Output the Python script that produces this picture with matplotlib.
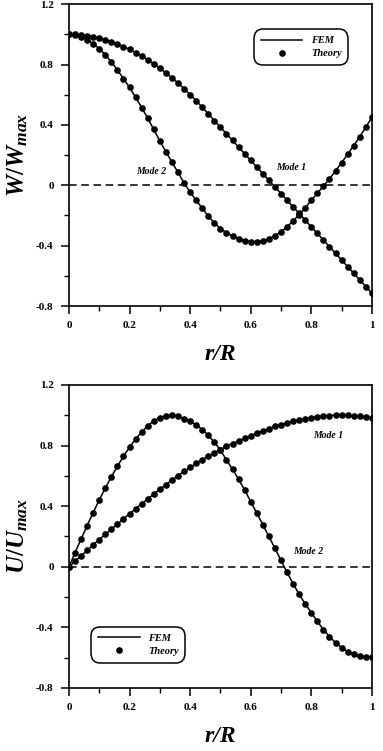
import matplotlib
matplotlib.use('Agg')
import matplotlib.pyplot as plt
import numpy as np

plt.rcParams['font.family'] = ['Liberation Serif', 'DejaVu Serif']
plt.rcParams['font.weight'] = 'bold'
plt.rcParams['mathtext.fontset'] = 'custom'
plt.rcParams['mathtext.it'] = 'Liberation Serif:italic:bold'
plt.rcParams['mathtext.rm'] = 'Liberation Serif:bold'

# r/R positions (0 to 1, step 0.02)
r = np.round(np.arange(0, 51) * 0.02, 2)

# transverse displacement W/Wmax
w_mode1 = [1.000, 0.999, 0.996, 0.991, 0.984, 0.975, 0.964, 0.951, 0.936, 0.919,
           0.900, 0.879, 0.856, 0.831, 0.804, 0.775, 0.745, 0.712, 0.677, 0.640,
           0.601, 0.560, 0.517, 0.473, 0.429, 0.385, 0.341, 0.297, 0.253, 0.209,
           0.165, 0.121, 0.077, 0.033, -0.011, -0.055, -0.099, -0.143, -0.187, -0.231,
           -0.275, -0.319, -0.363, -0.407, -0.451, -0.495, -0.539, -0.583, -0.627, -0.671,
           -0.715]
w_mode2 = [1.000, 0.996, 0.984, 0.965, 0.938, 0.905, 0.864, 0.817, 0.764, 0.706,
           0.648, 0.583, 0.515, 0.444, 0.370, 0.293, 0.222, 0.153, 0.085, 0.015,
           -0.045, -0.100, -0.152, -0.205, -0.250, -0.287, -0.315, -0.337, -0.353, -0.366,
           -0.374, -0.375, -0.368, -0.354, -0.334, -0.308, -0.275, -0.236, -0.195, -0.150,
           -0.099, -0.052, -0.006, 0.042, 0.095, 0.150, 0.205, 0.263, 0.322, 0.385,
           0.450]

# radial displacement U/Umax
u_mode1 = [0.000, 0.036, 0.072, 0.108, 0.144, 0.180, 0.214, 0.248, 0.282, 0.316,
           0.350, 0.383, 0.416, 0.448, 0.480, 0.511, 0.542, 0.572, 0.601, 0.629,
           0.656, 0.682, 0.707, 0.731, 0.753, 0.774, 0.794, 0.813, 0.831, 0.848,
           0.865, 0.881, 0.896, 0.911, 0.926, 0.938, 0.950, 0.960, 0.969, 0.977,
           0.984, 0.990, 0.995, 0.998, 1.000, 1.000, 0.999, 0.997, 0.993, 0.988,
           0.982]
u_mode2 = [0.000, 0.092, 0.183, 0.272, 0.358, 0.441, 0.519, 0.594, 0.664, 0.729,
           0.789, 0.843, 0.890, 0.930, 0.962, 0.985, 0.998, 1.000, 0.992, 0.978,
           0.960, 0.937, 0.906, 0.868, 0.822, 0.770, 0.705, 0.643, 0.578, 0.507,
           0.430, 0.355, 0.278, 0.200, 0.122, 0.042, -0.037, -0.112, -0.182, -0.245,
           -0.303, -0.361, -0.414, -0.461, -0.501, -0.534, -0.560, -0.578, -0.589, -0.594,
           -0.594]

x_ticks = [0, 0.2, 0.4, 0.6, 0.8, 1.0]
x_ticklabels = ['0', '0.2', '0.4', '0.6', '0.8', '1']
y_ticks = [-0.8, -0.4, 0, 0.4, 0.8, 1.2]
y_ticklabels = ['-0.8', '-0.4', '0', '0.4', '0.8', '1.2']

fig = plt.figure(figsize=(3.83, 7.51), dpi=100)
ax1 = fig.add_axes([0.180, 0.5925, 0.791, 0.402])
ax2 = fig.add_axes([0.180, 0.0839, 0.791, 0.4035])


def style_axes(ax, ylabel):
    ax.set_xlim(0, 1)
    ax.set_ylim(-0.8, 1.2)
    ax.set_xticks(x_ticks)
    ax.set_xticklabels(x_ticklabels)
    ax.set_xticks(np.arange(0.1, 1.0, 0.2), minor=True)
    ax.set_yticks(y_ticks)
    ax.set_yticklabels(y_ticklabels)
    ax.set_yticks([-0.6, -0.2, 0.2, 0.6, 1.0], minor=True)
    ax.tick_params(which='major', direction='out', length=6, width=1.1,
                   labelsize=8, top=False, right=False, pad=5)
    ax.tick_params(which='minor', direction='out', length=3.5, width=1.0,
                   top=False, right=False)
    for s in ax.spines.values():
        s.set_linewidth(1.2)
    ax.axhline(0, color='k', lw=1.1, ls=(0, (5, 3)), zorder=1)
    ax.set_xlabel('r/R', fontsize=17, style='italic', weight='bold')
    ax.xaxis.set_label_coords(0.5, -0.125)
    ax.set_ylabel(ylabel, fontsize=18)
    ax.yaxis.set_label_coords(-0.13, 0.5)


def draw_mode(ax, y, label=True):
    ax.plot(r, y, '-', color='k', lw=1.1, label='FEM' if label else None, zorder=3)
    ax.plot(r, y, 'o', color='k', ms=4.8, mew=0, label='Theory' if label else None,
            zorder=4)


draw_mode(ax1, w_mode1)
draw_mode(ax1, w_mode2, label=False)
style_axes(ax1, r'$W/W_{max}$')
ax1.text(0.27, 0.09, 'Mode 2', fontsize=7, style='italic', weight='bold',
         ha='center', va='center')
ax1.text(0.735, 0.12, 'Mode 1', fontsize=7, style='italic', weight='bold',
         ha='center', va='center')

draw_mode(ax2, u_mode1)
draw_mode(ax2, u_mode2, label=False)
style_axes(ax2, r'$U/U_{max}$')
ax2.text(0.855, 0.865, 'Mode 1', fontsize=7, style='italic', weight='bold',
         ha='center', va='center')
ax2.text(0.79, 0.10, 'Mode 2', fontsize=7, style='italic', weight='bold',
         ha='center', va='center')


def add_legend(ax, loc, anchor):
    leg = ax.legend(loc=loc, bbox_to_anchor=anchor, borderaxespad=0,
                    fancybox=True, handlelength=4.0, handletextpad=0.8,
                    borderpad=0.45, labelspacing=0.35, framealpha=1,
                    prop={'family': 'Liberation Serif', 'style': 'italic',
                          'weight': 'bold', 'size': 7.5})
    fr = leg.get_frame()
    fr.set_edgecolor('k')
    fr.set_linewidth(1.1)
    fr.set_boxstyle('round,pad=0.2,rounding_size=0.9')
    return leg


add_legend(ax1, 'upper right', (0.915, 0.91))
add_legend(ax2, 'lower left', (0.08, 0.09))

fig.savefig('out.png', dpi=100)
